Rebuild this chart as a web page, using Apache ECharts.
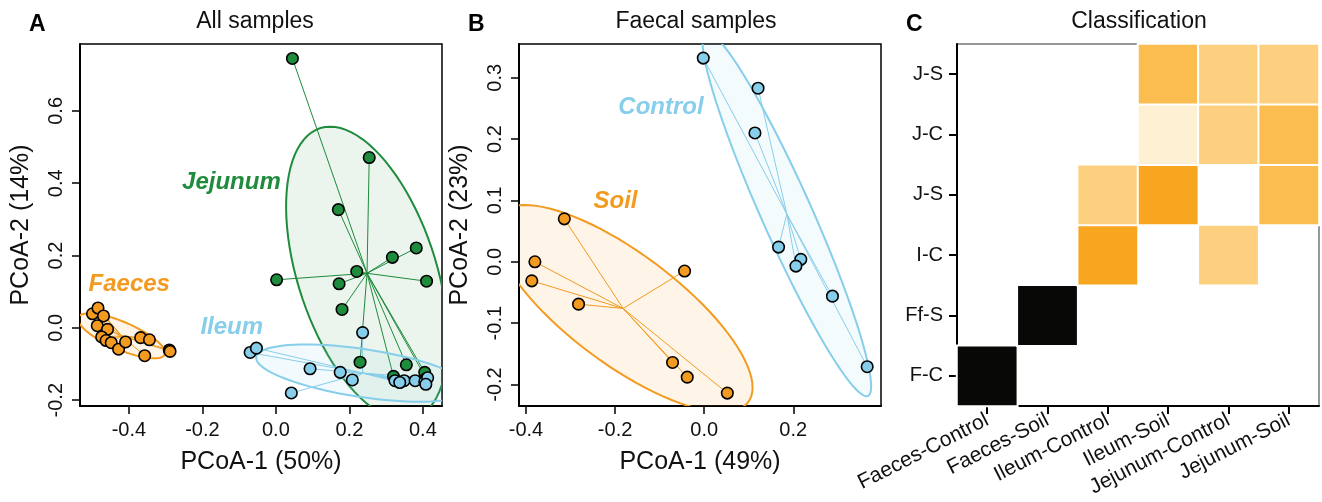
<!DOCTYPE html>
<html>
<head>
<meta charset="utf-8">
<script src="https://cdn.jsdelivr.net/npm/echarts@6.0.0/dist/echarts.min.js"></script>
<style>
  html, body { margin: 0; padding: 0; background: #fff; }
  #main { width: 1322px; height: 502px; }
</style>
</head>
<body>
<div id="main"></div>
<script>
// ---- panel A : all samples (PCoA-1 / PCoA-2) ----
var faecesPts = [[-0.499, 0.039], [-0.484, 0.055], [-0.469, 0.033], [-0.486, 0.006], [-0.458, -0.004],
  [-0.474, -0.025], [-0.462, -0.035], [-0.448, -0.041], [-0.428, -0.059], [-0.409, -0.039],
  [-0.368, -0.027], [-0.344, -0.033], [-0.357, -0.077], [-0.290, -0.061], [-0.288, -0.065]];
var ileumPts = [[-0.070, -0.068], [-0.053, -0.056], [0.093, -0.113], [0.175, -0.123], [0.208, -0.144],
  [0.042, -0.180], [0.236, -0.013], [0.324, -0.146], [0.349, -0.146], [0.379, -0.146],
  [0.405, -0.149], [0.413, -0.138], [0.408, -0.156], [0.337, -0.151]];
var jejunumPts = [[0.045, 0.745], [0.254, 0.471], [0.170, 0.327], [0.382, 0.221], [0.317, 0.195],
  [0.220, 0.156], [0.172, 0.122], [0.002, 0.133], [0.410, 0.129], [0.180, 0.051],
  [0.229, -0.095], [0.355, -0.102], [0.405, -0.123], [0.320, -0.134], [0.409, -0.140]];
// group centroid and two conjugate semi-diameters of each ellipse
var faecesCentre = [-0.420, -0.022];
var faecesAxes = [[0.1176, -0.0515], [-0.0150, -0.0350]];
var ileumCentre = [0.236, -0.125];
var ileumAxes = [[0.2895, -0.0443], [-0.0097, -0.0656]];
var jejunumCentre = [0.248, 0.151];
var jejunumAxes = [[-0.1004, 0.4055], [0.196, 0]];

// ---- panel B : faecal samples ----
var controlPts = [[-0.002, 0.332], [0.121, 0.283], [0.114, 0.210], [0.167, 0.024], [0.217, 0.004],
  [0.206, -0.007], [0.288, -0.056], [0.366, -0.171]];
var soilPts = [[-0.314, 0.070], [-0.380, 0.000], [-0.387, -0.031], [-0.282, -0.069], [-0.044, -0.015],
  [-0.071, -0.164], [-0.038, -0.188], [0.052, -0.214]];
var controlCentre = [0.1856, 0.0778];
var controlAxes = [[0.179, -0.297], [0.0617, 0]];
var soilCentre = [-0.182, -0.076];
var soilAxes = [[0.2907, -0.129], [0, -0.1088]];

// ---- panel C : classification ----
var predicted = ['Faeces-Control', 'Faeces-Soil', 'Ileum-Control', 'Ileum-Soil', 'Jejunum-Control', 'Jejunum-Soil'];
var actual = ['F-C', 'Ff-S', 'I-C', 'J-S', 'J-C', 'J-S'];
var classCells = [[0, 0, 1.0], [1, 1, 1.0], [2, 2, 0.7], [4, 2, 0.3], [2, 3, 0.3], [3, 3, 0.7], [5, 3, 0.45],
  [3, 4, 0.1], [4, 4, 0.3], [5, 4, 0.45], [3, 5, 0.45], [4, 5, 0.3], [5, 5, 0.3]];

var GREEN = '#1f8b3c', BLUE = '#87ceeb', ORANGE = '#f39b21';
var FONT = 'Liberation Sans';

var myChart = echarts.init(document.getElementById('main'));

function ellipseSeries(grid, centre, axes, pts, color, fill) {
    return {
        type: 'custom',
        xAxisIndex: grid, yAxisIndex: grid,
        clip: true, silent: true, z: 1,
        data: [centre],
        renderItem: function (params, api) {
            var ring = [];
            for (var k = 0; k <= 90; k++) {
                var t = k / 90 * Math.PI * 2;
                ring.push(api.coord([
                    centre[0] + axes[0][0] * Math.cos(t) + axes[1][0] * Math.sin(t),
                    centre[1] + axes[0][1] * Math.cos(t) + axes[1][1] * Math.sin(t)
                ]));
            }
            var c = api.coord(centre);
            var kids = [{type: 'polygon', shape: {points: ring}, style: {fill: fill, stroke: color, lineWidth: 2}}];
            pts.forEach(function (p) {
                var q = api.coord(p);
                kids.push({type: 'line', shape: {x1: c[0], y1: c[1], x2: q[0], y2: q[1]},
                    style: {stroke: color, lineWidth: 1}});
            });
            return {type: 'group', children: kids};
        }
    };
}

function pointSeries(grid, pts, color, z) {
    return {
        type: 'scatter', xAxisIndex: grid, yAxisIndex: grid,
        data: pts, symbolSize: 11.5, z: z, silent: true,
        itemStyle: {color: color, borderColor: '#000', borderWidth: 1.6, opacity: 1}
    };
}

function labelSeries(grid, items) {
    return {
        type: 'scatter', xAxisIndex: grid, yAxisIndex: grid, symbolSize: 0, z: 6, silent: true,
        data: items,
        itemStyle: {opacity: 1},
        label: {show: true, position: 'inside', formatter: '{b}', fontFamily: FONT, opacity: 1,
            fontSize: 24, fontWeight: 'bold', fontStyle: 'italic'}
    };
}

function valueAxis(grid, min, max, ticks, name, gap, isY) {
    return {
        type: 'value', gridIndex: grid, min: min, max: max,
        name: name, nameLocation: 'middle', nameGap: gap,
        nameTextStyle: {fontFamily: FONT, fontSize: 25, color: '#111'},
        axisLine: {show: true, onZero: false, lineStyle: {color: '#000', width: 2}},
        axisTick: {show: true, length: 8, customValues: ticks, lineStyle: {color: '#000', width: 1.5}},
        axisLabel: {show: true, customValues: ticks, rotate: isY ? 90 : 0, margin: 14,
            fontFamily: FONT, fontSize: 20, color: '#111',
            formatter: function (v) { return v.toFixed(1); }},
        splitLine: {show: false}
    };
}

var option = {
    backgroundColor: '#fff',
    animation: false,
    title: [
        {text: 'All samples', left: 250, top: 5, textAlign: 'center', textStyle: {fontFamily: FONT, fontSize: 23, fontWeight: 'normal', color: '#111'}},
        {text: 'Faecal samples', left: 691, top: 5, textAlign: 'center', textStyle: {fontFamily: FONT, fontSize: 23, fontWeight: 'normal', color: '#111'}},
        {text: 'Classification', left: 1134, top: 5, textAlign: 'center', textStyle: {fontFamily: FONT, fontSize: 23, fontWeight: 'normal', color: '#111'}},
        {text: 'A', left: 24, top: 8, textStyle: {fontFamily: FONT, fontSize: 23, fontWeight: 'bold', color: '#000'}},
        {text: 'B', left: 463, top: 8, textStyle: {fontFamily: FONT, fontSize: 23, fontWeight: 'bold', color: '#000'}},
        {text: 'C', left: 901, top: 8, textStyle: {fontFamily: FONT, fontSize: 23, fontWeight: 'bold', color: '#000'}}
    ],
    grid: [
        {left: 80, top: 44, width: 362, height: 362, show: true, borderColor: '#000', borderWidth: 1.5},
        {left: 519, top: 44, width: 362, height: 362, show: true, borderColor: '#000', borderWidth: 1.5},
        {left: 957, top: 44, width: 362, height: 362, show: true, borderColor: '#777', borderWidth: 1.5}
    ],
    xAxis: [
        valueAxis(0, -0.533, 0.452, [-0.4, -0.2, 0, 0.2, 0.4], 'PCoA-1 (50%)', 44, false),
        valueAxis(1, -0.4157, 0.397, [-0.4, -0.2, 0, 0.2], 'PCoA-1 (49%)', 44, false),
        {
            type: 'category', gridIndex: 2, data: predicted,
            axisLine: {show: true, lineStyle: {color: '#000', width: 2}},
            axisTick: {show: true, alignWithLabel: true, length: 8, lineStyle: {color: '#000', width: 2}},
            axisLabel: {interval: 0, rotate: 27, margin: 13, fontFamily: FONT, fontSize: 21, color: '#111'},
            splitLine: {show: false}
        }
    ],
    yAxis: [
        valueAxis(0, -0.216, 0.785, [-0.2, 0, 0.2, 0.4, 0.6], 'PCoA-2 (14%)', 46, true),
        valueAxis(1, -0.235, 0.355, [-0.2, -0.1, 0, 0.1, 0.2, 0.3], 'PCoA-2 (23%)', 46, true),
        {
            type: 'category', gridIndex: 2, data: actual,
            axisLine: {show: true, lineStyle: {color: '#000', width: 2}},
            axisTick: {show: true, alignWithLabel: true, length: 8, lineStyle: {color: '#000', width: 2}},
            axisLabel: {interval: 0, margin: 14, fontFamily: FONT, fontSize: 20, color: '#111'},
            splitLine: {show: false}
        }
    ],
    visualMap: {
        show: false, type: 'piecewise', seriesIndex: 13, dimension: 2,
        pieces: [
            {min: 0.95, color: '#080806'},
            {min: 0.6, max: 0.95, color: '#f8a51f'},
            {min: 0.4, max: 0.6, color: '#fbbd4f'},
            {min: 0.2, max: 0.4, color: '#fdd07f'},
            {min: 0.01, max: 0.2, color: '#fef0d2'}
        ]
    },
    series: [
        ellipseSeries(0, jejunumCentre, jejunumAxes, jejunumPts, GREEN, 'rgba(31,139,60,0.09)'),
        ellipseSeries(0, ileumCentre, ileumAxes, ileumPts, BLUE, 'rgba(135,206,235,0.1)'),
        ellipseSeries(0, faecesCentre, faecesAxes, faecesPts, ORANGE, 'rgba(243,155,33,0.1)'),
        pointSeries(0, jejunumPts, GREEN, 3),
        pointSeries(0, ileumPts, BLUE, 4),
        pointSeries(0, faecesPts, ORANGE, 4),
        labelSeries(0, [
            {name: 'Jejunum', value: [-0.121, 0.402], label: {color: GREEN}},
            {name: 'Faeces', value: [-0.399, 0.119], label: {color: ORANGE}},
            {name: 'Ileum', value: [-0.120, 0.001], label: {color: BLUE}}
        ]),
        ellipseSeries(1, controlCentre, controlAxes, controlPts, BLUE, 'rgba(135,206,235,0.09)'),
        ellipseSeries(1, soilCentre, soilAxes, soilPts, ORANGE, 'rgba(243,155,33,0.11)'),
        pointSeries(1, controlPts, BLUE, 4),
        pointSeries(1, soilPts, ORANGE, 4),
        labelSeries(1, [
            {name: 'Control', value: [-0.097, 0.251], label: {color: BLUE}},
            {name: 'Soil', value: [-0.199, 0.099], label: {color: ORANGE}}
        ]),
        // placeholder keeps heatmap at index 13
        {type: 'scatter', xAxisIndex: 1, yAxisIndex: 1, data: [], silent: true},
        {
            type: 'heatmap', xAxisIndex: 2, yAxisIndex: 2, data: classCells, silent: true,
            itemStyle: {borderColor: '#fff', borderWidth: 2},
            emphasis: {disabled: true}
        }
    ]
};
myChart.setOption(option);
window.onresize = myChart.resize;
</script>
</body>
</html>
